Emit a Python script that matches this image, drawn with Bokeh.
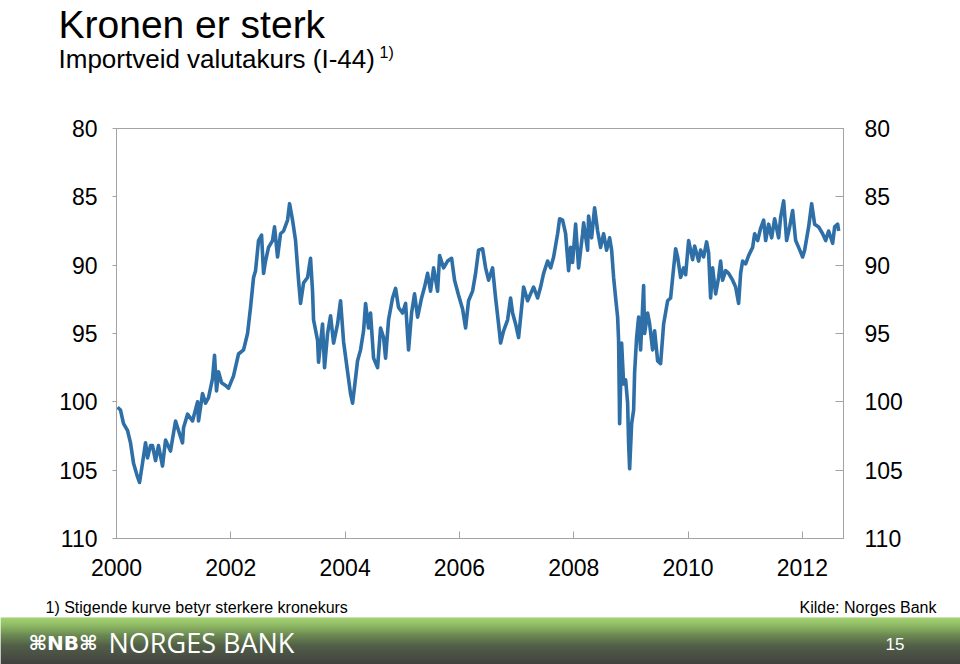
from bokeh.plotting import figure
from bokeh.models import Range1d, LinearAxis, FixedTicker
from bokeh.layouts import column
from bokeh.embed import file_html
from bokeh.resources import INLINE
from bokeh.core.properties import value

# ---------------- data ----------------
years = [
    2000.018, 2000.070, 2000.123, 2000.193, 2000.245, 2000.298, 2000.368, 2000.403,
    2000.455, 2000.508, 2000.543, 2000.595, 2000.630, 2000.683, 2000.735, 2000.805,
    2000.858, 2000.945, 2001.033, 2001.085, 2001.155, 2001.173, 2001.243, 2001.330,
    2001.418, 2001.435, 2001.505, 2001.558, 2001.610, 2001.680, 2001.715, 2001.750,
    2001.785, 2001.838, 2001.908, 2001.960, 2002.048, 2002.135, 2002.223, 2002.293,
    2002.345, 2002.398, 2002.433, 2002.485, 2002.538, 2002.573, 2002.608, 2002.660,
    2002.730, 2002.765, 2002.818, 2002.870, 2002.923, 2002.993, 2003.028, 2003.080,
    2003.133, 2003.185, 2003.220, 2003.273, 2003.343, 2003.395, 2003.430, 2003.448,
    2003.518, 2003.535, 2003.605, 2003.640, 2003.693, 2003.745, 2003.798, 2003.868,
    2003.920, 2003.973, 2004.043, 2004.095, 2004.130, 2004.165, 2004.218, 2004.270,
    2004.323, 2004.358, 2004.410, 2004.445, 2004.498, 2004.568, 2004.620, 2004.673,
    2004.708, 2004.760, 2004.830, 2004.883, 2004.935, 2005.005, 2005.058, 2005.110,
    2005.163, 2005.215, 2005.268, 2005.338, 2005.390, 2005.443, 2005.495, 2005.548,
    2005.618, 2005.653, 2005.723, 2005.793, 2005.863, 2005.915, 2005.985, 2006.055,
    2006.108, 2006.160, 2006.230, 2006.283, 2006.335, 2006.405, 2006.458, 2006.510,
    2006.580, 2006.633, 2006.685, 2006.720, 2006.773, 2006.843, 2006.895, 2006.930,
    2006.983, 2007.035, 2007.105, 2007.123, 2007.193, 2007.245, 2007.298, 2007.368,
    2007.420, 2007.473, 2007.543, 2007.595, 2007.648, 2007.718, 2007.753, 2007.805,
    2007.858, 2007.910, 2007.945, 2007.980, 2008.033, 2008.085, 2008.155, 2008.173,
    2008.243, 2008.260, 2008.313, 2008.365, 2008.418, 2008.470, 2008.523, 2008.575,
    2008.628, 2008.663, 2008.698, 2008.733, 2008.768, 2008.785, 2008.803, 2008.838,
    2008.873, 2008.908, 2008.943, 2008.960, 2008.978, 2009.013, 2009.048, 2009.065,
    2009.100, 2009.135, 2009.170, 2009.223, 2009.240, 2009.293, 2009.328, 2009.380,
    2009.415, 2009.468, 2009.520, 2009.573, 2009.643, 2009.695, 2009.748, 2009.783,
    2009.818, 2009.870, 2009.923, 2009.958, 2010.010, 2010.080, 2010.115, 2010.185,
    2010.220, 2010.273, 2010.325, 2010.360, 2010.395, 2010.430, 2010.483, 2010.535,
    2010.570, 2010.605, 2010.658, 2010.710, 2010.780, 2010.833, 2010.885, 2010.920,
    2010.955, 2011.008, 2011.060, 2011.130, 2011.165, 2011.218, 2011.270, 2011.323,
    2011.358, 2011.410, 2011.463, 2011.515, 2011.585, 2011.620, 2011.673, 2011.725,
    2011.778, 2011.830, 2011.883, 2011.935, 2012.005, 2012.040, 2012.110, 2012.163,
    2012.215, 2012.285, 2012.355, 2012.408, 2012.460, 2012.530, 2012.565, 2012.618,
    2012.635,
]
index = [
    100.4, 100.6, 101.6, 102.1, 103.0, 104.5, 105.5, 105.9,
    104.5, 103.0, 104.1, 103.2, 103.2, 104.3, 103.2, 104.7,
    102.8, 103.6, 101.4, 102.1, 103.0, 101.9, 100.9, 101.4,
    100.0, 101.4, 99.4, 100.1, 99.7, 98.3, 96.6, 99.2,
    97.8, 98.6, 98.8, 99.0, 98.1, 96.5, 96.2, 95.0,
    93.1, 90.9, 90.4, 88.2, 87.8, 90.6, 89.7, 88.7,
    88.2, 87.2, 89.4, 87.7, 87.5, 86.7, 85.5, 86.7,
    88.2, 91.1, 92.8, 91.3, 90.9, 89.5, 91.9, 94.0,
    95.5, 97.1, 94.3, 97.5, 95.0, 93.7, 95.7, 94.3,
    92.6, 95.6, 97.8, 99.4, 100.1, 98.9, 97.0, 96.2,
    94.8, 92.8, 94.6, 93.5, 96.8, 97.5, 94.6, 95.3,
    96.8, 94.0, 92.4, 91.7, 93.1, 93.5, 92.8, 96.2,
    93.5, 92.1, 93.8, 92.4, 91.6, 90.6, 91.9, 90.2,
    91.9, 89.3, 90.2, 89.7, 89.5, 91.1, 92.2, 93.2,
    94.6, 92.6, 91.9, 90.6, 88.9, 88.8, 90.2, 91.1,
    90.2, 92.4, 94.3, 95.7, 94.8, 94.0, 92.4, 93.5,
    94.3, 95.3, 92.4, 91.6, 92.6, 92.1, 91.6, 92.4,
    91.6, 90.6, 89.7, 90.2, 89.4, 87.7, 86.6, 86.7,
    87.7, 90.4, 88.7, 89.8, 87.0, 90.2, 87.7, 86.9,
    88.9, 86.4, 88.0, 85.8, 87.5, 88.7, 87.7, 88.9,
    88.0, 88.9, 90.9, 92.4, 93.8, 95.5, 101.6, 95.7,
    98.7, 98.4, 100.1, 103.0, 104.9, 101.6, 100.6, 97.9,
    95.3, 93.8, 96.2, 91.5, 95.0, 93.5, 94.3, 96.2,
    94.8, 97.0, 97.2, 94.3, 92.6, 92.4, 90.2, 88.8,
    89.4, 90.9, 90.2, 90.7, 88.2, 89.6, 88.6, 89.7,
    88.9, 89.4, 88.3, 89.1, 92.4, 90.2, 92.1, 90.9,
    89.7, 91.1, 90.4, 90.6, 91.1, 91.6, 92.8, 90.6,
    89.7, 89.9, 89.3, 88.7, 87.7, 88.2, 87.3, 86.7,
    88.2, 87.0, 88.0, 86.6, 88.0, 86.5, 85.3, 88.2,
    87.2, 86.0, 88.2, 88.7, 89.4, 88.9, 87.2, 85.5,
    87.0, 87.2, 87.7, 88.2, 87.5, 88.4, 87.2, 87.0,
    87.5,
]
y_ticks = [80, 85, 90, 95, 100, 105, 110]
x_ticks = [2000, 2002, 2004, 2006, 2008, 2010, 2012]

title_text = "Kronen er sterk"
subtitle_text = "Importveid valutakurs (I-44)"
note_mark = "1)"
footnote_text = "1) Stigende kurve betyr sterkere kronekurs"
source_text = "Kilde: Norges Bank"
bank_text = "NORGES BANK"
logo_text = "\u2318NB\u2318"
page_text = "15"

FONT = "Liberation Sans"
LINE_COLOR = "#2e6fa7"
AXIS_GREY = "#a3a3a3"

# ---------------- header ----------------
hdr = figure(width=960, height=100, x_range=Range1d(0, 960), y_range=Range1d(100, 0),
             toolbar_location=None, output_backend="svg", min_border=0, frame_align=False,
             title=None, x_axis_type=None, y_axis_type=None, outline_line_color=None)
hdr.xgrid.visible = False
hdr.ygrid.visible = False
hdr.text(x=[58], y=[24], text=[title_text], text_font=value(FONT), text_font_size="39px",
         text_baseline="middle", text_color="black")
hdr.text(x=[58], y=[58], text=[subtitle_text], text_font=value(FONT), text_font_size="26px",
         text_baseline="middle", text_color="black")
hdr.text(x=[379], y=[52], text=[note_mark], text_font=value(FONT), text_font_size="16px",
         text_baseline="middle", text_color="black")

# ---------------- main chart ----------------
p = figure(width=960, height=490, x_range=Range1d(2000, 2012.72), y_range=Range1d(110, 80),
           toolbar_location=None, output_backend="svg", frame_align=False, title=None,
           min_border_left=116, min_border_right=117, min_border_top=28, min_border_bottom=52)
p.xgrid.visible = False
p.ygrid.visible = False
p.outline_line_color = AXIS_GREY
p.outline_line_width = 1

p.line(x=years, y=index, line_color=LINE_COLOR, line_width=3.6, line_join="round")

xa = p.xaxis[0]
xa.ticker = FixedTicker(ticks=x_ticks)
xa.major_tick_in = 7
xa.major_tick_out = 0
xa.minor_tick_line_color = None
xa.axis_line_color = AXIS_GREY
xa.major_tick_line_color = AXIS_GREY
xa.major_label_text_font = FONT
xa.major_label_text_font_size = "23px"
xa.major_label_text_color = "black"
xa.major_label_standoff = 20

ya = p.yaxis[0]
ya.ticker = FixedTicker(ticks=y_ticks)
ya.major_tick_in = 0
ya.major_tick_out = 4
ya.minor_tick_line_color = None
ya.axis_line_color = AXIS_GREY
ya.major_tick_line_color = AXIS_GREY
ya.major_label_text_font = FONT
ya.major_label_text_font_size = "23px"
ya.major_label_text_color = "black"
ya.major_label_standoff = 15

ra = LinearAxis(ticker=FixedTicker(ticks=y_ticks))
ra.major_tick_in = 8
ra.major_tick_out = 0
ra.minor_tick_line_color = None
ra.axis_line_color = AXIS_GREY
ra.major_tick_line_color = AXIS_GREY
ra.major_label_text_font = FONT
ra.major_label_text_font_size = "23px"
ra.major_label_text_color = "black"
ra.major_label_standoff = 21
p.add_layout(ra, "right")

# ---------------- footer ----------------
ftr = figure(width=960, height=74, x_range=Range1d(0, 960), y_range=Range1d(664, 590),
             toolbar_location=None, output_backend="svg", min_border=0, frame_align=False,
             title=None, x_axis_type=None, y_axis_type=None, outline_line_color=None)
ftr.xgrid.visible = False
ftr.ygrid.visible = False

stops = [(617, (152, 202, 98)), (624, (128, 178, 78)), (634, (88, 122, 58)),
         (645, (58, 72, 46)), (664, (36, 38, 36))]
tops, bottoms, cols = [], [], []
for yy in range(617, 664):
    for (y0, c0), (y1, c1) in zip(stops[:-1], stops[1:]):
        if y0 <= yy <= y1:
            f = (yy - y0) / (y1 - y0)
            c = tuple(int(round(a + (b - a) * f)) for a, b in zip(c0, c1))
            break
    tops.append(yy)
    bottoms.append(yy + 1.3)
    cols.append("#%02x%02x%02x" % c)
ftr.quad(left=0, right=960, top=tops, bottom=bottoms, fill_color=cols, line_color=None)

ftr.text(x=[45], y=[607], text=[footnote_text], text_font=value(FONT), text_font_size="16px",
         text_baseline="middle", text_color="black")
ftr.text(x=[936], y=[607], text=[source_text], text_font=value(FONT), text_font_size="16px",
         text_baseline="middle", text_align="right", text_color="black")
ftr.text(x=[28], y=[642], text=[logo_text], text_font=value("DejaVu Sans"), text_font_size="20px",
         text_font_style="bold", text_baseline="middle", text_color="white")
ftr.text(x=[108], y=[642], text=[bank_text], text_font=value("Open Sans"), text_font_size="27px",
         text_baseline="middle", text_color="white")
ftr.text(x=[904], y=[643], text=[page_text], text_font=value(FONT), text_font_size="17px",
         text_baseline="middle", text_align="right", text_color="white")

layout = column(hdr, p, ftr, spacing=0)
open("out.html", "w").write(file_html(layout, INLINE))
